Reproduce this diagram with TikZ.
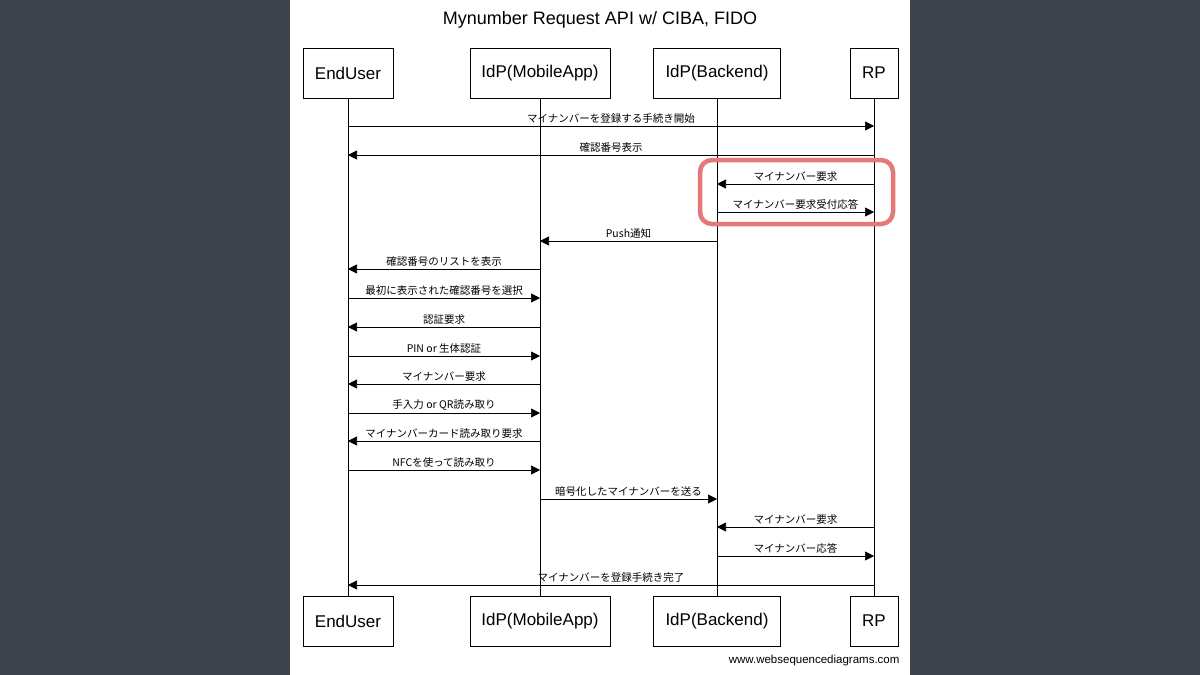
\documentclass[tikz,border=0pt]{standalone}
\usepackage{fontspec}
\setmainfont{Liberation Sans}
\newfontfamily\jp{Noto Sans CJK JP}
\usetikzlibrary{arrows.meta}
\definecolor{board}{RGB}{62,68,78}
\definecolor{hl}{RGB}{232,120,120}
\begin{document}
\begin{tikzpicture}[x=1pt,y=-1pt,
  actor/.style={draw,line width=0.8pt,fill=white,minimum height=50pt,inner sep=0pt,font=\fontsize{17}{17}\selectfont},
  life/.style={line width=0.7pt},
  msg/.style={line width=0.7pt,-{Triangle[length=9pt,width=9pt]}},
  lbl/.style={midway,above,inner sep=2pt,font=\jp\fontsize{10.5}{10.5}\selectfont}]
\useasboundingbox (0,0) rectangle (1200,675);
\fill[board] (0,0) rectangle (1200,675);
\fill[white] (290,0) rectangle (910,675);
\node[font=\fontsize{18}{18}\selectfont] (title) at (600,20) {Mynumber Request API w/ CIBA, FIDO};
% actors
\node[actor,minimum width=90pt] (eu) at (348,73) {EndUser};
\node[actor,minimum width=140pt] (ma) at (540,73) {IdP(MobileApp)};
\node[actor,minimum width=127pt] (be) at (717,73) {IdP(Backend)};
\node[actor,minimum width=48pt] (rp) at (874,73) {RP};
\node[actor,minimum width=90pt] (eu2) at (348,621) {EndUser};
\node[actor,minimum width=140pt] (ma2) at (540,621) {IdP(MobileApp)};
\node[actor,minimum width=127pt] (be2) at (717,621) {IdP(Backend)};
\node[actor,minimum width=48pt] (rp2) at (874,621) {RP};
\draw[life] (eu) -- (eu2);
\draw[life] (ma) -- (ma2);
\draw[life] (be) -- (be2);
\draw[life] (rp) -- (rp2);
% messages
\foreach \y/\a/\b/\t in {
 126/eu/rp/マイナンバーを登録する手続き開始,
 155/rp/eu/確認番号表示,
 184/rp/be/マイナンバー要求,
 212/be/rp/マイナンバー要求受付応答,
 241/be/ma/Push通知,
 269/ma/eu/確認番号のリストを表示,
 298/eu/ma/最初に表示された確認番号を選択,
 327/ma/eu/認証要求,
 356/eu/ma/PIN or 生体認証,
 384/ma/eu/マイナンバー要求,
 413/eu/ma/手入力 or QR読み取り,
 441/ma/eu/マイナンバーカード読み取り要求,
 470/eu/ma/NFCを使って読み取り,
 499/ma/be/暗号化したマイナンバーを送る,
 527/rp/be/マイナンバー要求,
 556/be/rp/マイナンバー応答,
 585/rp/eu/マイナンバーを登録手続き完了}
 {\draw[msg] (\a.center |- 0,\y) -- (\b.center |- 0,\y) node[lbl] {\t};}
% highlight
\draw[line width=4.5pt,color=hl,rounded corners=12pt] (700,160) rectangle (893,224);
\node[anchor=east,font=\fontsize{11.5}{11.5}\selectfont] (foot) at (903,661) {www.websequencediagrams.com};
\end{tikzpicture}
\end{document}
